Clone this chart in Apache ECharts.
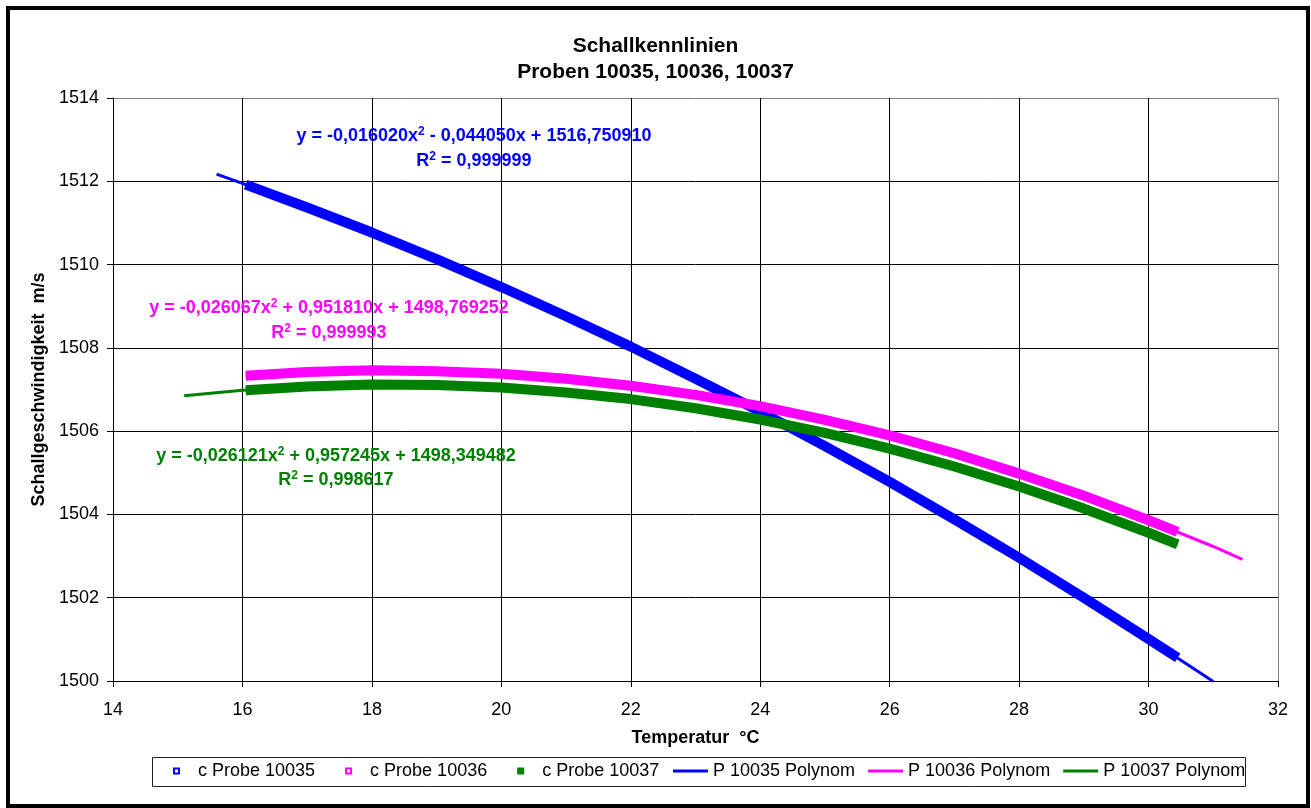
<!DOCTYPE html>
<html><head><meta charset="utf-8">
<script src="https://cdn.jsdelivr.net/npm/echarts@6/dist/echarts.min.js"></script>
<style>html,body{margin:0;padding:0;background:#fff}#c{width:1311px;height:808px}</style>
</head><body><div id="c"></div>
<script>
// ---- data ----
const bandTemp = [16.05,17,18,19,20,21,22,23,24,25,26,27,28,29,30,30.45];
const probe10035 = [1511.92,1511.37,1510.77,1510.13,1509.46,1508.76,1508.03,1507.26,1506.47,1505.64,1504.78,1503.88,1502.96,1502.00,1501.01,1500.56];
const probe10036 = [1507.33,1507.42,1507.46,1507.44,1507.38,1507.26,1507.09,1506.87,1506.60,1506.27,1505.90,1505.47,1504.98,1504.45,1503.86,1503.58];
const probe10037 = [1506.98,1507.07,1507.12,1507.11,1507.05,1506.93,1506.77,1506.55,1506.28,1505.96,1505.58,1505.15,1504.67,1504.14,1503.56,1503.28];

const poly10035Temp = [15.6,16,17,18,19,20,21,22,23,24,25,26,27,28,29,30,31];
const poly10035 = [1512.17,1511.95,1511.37,1510.77,1510.13,1509.46,1508.76,1508.03,1507.26,1506.47,1505.64,1504.78,1503.88,1502.96,1502.00,1501.01,1499.99];
const poly10036Temp = [16.05,17,18,19,20,21,22,23,24,25,26,27,28,29,30,31,31.45];
const poly10036 = [1507.33,1507.42,1507.46,1507.44,1507.38,1507.26,1507.09,1506.87,1506.60,1506.27,1505.90,1505.47,1504.98,1504.45,1503.86,1503.23,1502.92];
const poly10037Temp = [15.1,16,17,18,19,20,21,22,23,24,25,26,27,28,29,30,30.45];
const poly10037 = [1506.85,1506.98,1507.07,1507.12,1507.11,1507.05,1506.93,1506.77,1506.55,1506.28,1505.96,1505.58,1505.15,1504.67,1504.14,1503.56,1503.28];

const xMin = 14, xMax = 32, xStep = 2;
const yMin = 1500, yMax = 1514, yStep = 2;

const titleText = 'Schallkennlinien\nProben 10035, 10036, 10037';
const xName = 'Temperatur  °C';
const yName = 'Schallgeschwindigkeit  m/s';
const probeNames = ['c Probe 10035','c Probe 10036','c Probe 10037'];
const polyNames = ['P 10035 Polynom','P 10036 Polynom','P 10037 Polynom'];
const eq10035 = ['-0,016020x', '2', ' - 0,044050x + 1516,750910', '0,999999'];
const eq10036 = ['-0,026067x', '2', ' + 0,951810x + 1498,769252', '0,999993'];
const eq10037 = ['-0,026121x', '2', ' + 0,957245x + 1498,349482', '0,998617'];

// ---- chart ----
const FONT = "'Liberation Sans', Arial, sans-serif";
const BLUE = '#0000ff', MAG = '#ff00ff', GREEN = '#008000';
const zip = (xs, ys) => xs.map((x, i) => [x, ys[i]]);

function eqText(e, color, cx, cy1, cy2) {
  const rich = {
    n: {fontFamily: FONT, fontWeight: 'bold', fontSize: 18, lineHeight: 20, fill: color},
    s: {fontFamily: FONT, fontWeight: 'bold', fontSize: 12, lineHeight: 12, verticalAlign: 'top', fill: color}
  };
  return [
    {type: 'text', x: cx, y: cy1, silent: true, z: 50,
     style: {text: '{n|y = ' + e[0] + '}{s|' + e[1] + '}{n|' + e[2] + '}', rich: rich,
             fill: color, font: 'bold 18px ' + FONT, align: 'center', verticalAlign: 'middle'}},
    {type: 'text', x: cx, y: cy2, silent: true, z: 50,
     style: {text: '{n|R}{s|2}{n| = ' + e[3] + '}', rich: rich,
             fill: color, font: 'bold 18px ' + FONT, align: 'center', verticalAlign: 'middle'}}
  ];
}

const ySplitColors = [];
for (let v = yMin; v <= yMax; v += yStep) ySplitColors.push(v === yMax ? '#808080' : '#000');
const xSplitColors = [];
for (let v = xMin; v <= xMax; v += xStep) xSplitColors.push(v === xMax ? '#808080' : '#000');

const chart = echarts.init(document.getElementById('c'), null, {renderer: 'canvas'});
const colors = [BLUE, MAG, GREEN];
const probeData = [probe10035, probe10036, probe10037];
const polyT = [poly10035Temp, poly10036Temp, poly10037Temp];
const polyV = [poly10035, poly10036, poly10037];

const series = [];
probeNames.forEach((n, i) => series.push({
  name: n, type: 'line', data: zip(bandTemp, probeData[i]), showSymbol: false, symbol: 'rect',
  lineStyle: {color: colors[i], width: 10, cap: 'butt'}, itemStyle: {color: colors[i]},
  z: 3, silent: true, animation: false
}));
polyNames.forEach((n, i) => series.push({
  name: n, type: 'line', data: zip(polyT[i], polyV[i]), showSymbol: false,
  lineStyle: {color: colors[i], width: 3}, itemStyle: {color: colors[i]},
  z: 2, silent: true, animation: false
}));

chart.setOption({
  animation: false,
  backgroundColor: '#fff',
  title: {text: titleText, left: 'center', top: 33, padding: 0,
          textStyle: {fontFamily: FONT, fontWeight: 'bold', fontSize: 21, lineHeight: 26, color: '#000'}},
  grid: {left: 113, right: 33, top: 98, bottom: 127, containLabel: false},
  xAxis: {type: 'value', min: xMin, max: xMax, interval: xStep,
    name: xName, nameLocation: 'middle', nameGap: 48,
    nameTextStyle: {fontFamily: FONT, fontWeight: 'bold', fontSize: 18, color: '#000'},
    axisLine: {show: true, onZero: false, lineStyle: {color: '#000', width: 1}},
    axisTick: {show: true, length: 6, lineStyle: {color: '#000'}},
    axisLabel: {margin: 20, fontFamily: FONT, fontSize: 18, color: '#000', formatter: v => String(v)},
    splitLine: {show: true, lineStyle: {color: xSplitColors, width: 1}}},
  yAxis: {type: 'value', min: yMin, max: yMax, interval: yStep,
    name: yName, nameLocation: 'middle', nameGap: 57, nameRotate: 90,
    nameTextStyle: {fontFamily: FONT, fontWeight: 'bold', fontSize: 18, color: '#000'},
    axisLine: {show: true, onZero: false, lineStyle: {color: '#000', width: 1}},
    axisTick: {show: true, length: 6, lineStyle: {color: '#000'}},
    axisLabel: {margin: 14, fontFamily: FONT, fontSize: 18, color: '#000', formatter: v => String(v)},
    splitLine: {show: true, lineStyle: {color: ySplitColors, width: 1}}},
  legend: [
    {left: 173, top: 762, padding: 0, itemGap: 30, itemWidth: 5, itemHeight: 5, selectedMode: false,
     textStyle: {fontFamily: FONT, fontSize: 18, color: '#000', padding: [0, 0, 0, 14]},
     data: probeNames.map((n, i) => ({name: n, icon: 'rect',
       itemStyle: {color: i === 2 ? GREEN : '#fff', borderColor: colors[i], borderWidth: 2}}))},
    {left: 673, top: 762, padding: 0, itemGap: 13, itemWidth: 35, itemHeight: 3, selectedMode: false,
     textStyle: {fontFamily: FONT, fontSize: 18, color: '#000'},
     data: polyNames.map((n, i) => ({name: n, icon: 'rect', itemStyle: {color: colors[i], borderWidth: 0}}))}
  ],
  graphic: [
    {type: 'rect', silent: true, z: 100, shape: {x: 8, y: 8, width: 1300, height: 798},
     style: {fill: null, stroke: '#000', lineWidth: 4}},
    {type: 'rect', silent: true, z: 0, shape: {x: 152.5, y: 757.5, width: 1093, height: 29},
     style: {fill: null, stroke: '#222', lineWidth: 1}},
    ...eqText(eq10035, BLUE, 474, 136, 161),
    ...eqText(eq10036, MAG, 329, 308, 333),
    ...eqText(eq10037, GREEN, 336, 456, 480)
  ],
  series: series
});
</script>
</body></html>
